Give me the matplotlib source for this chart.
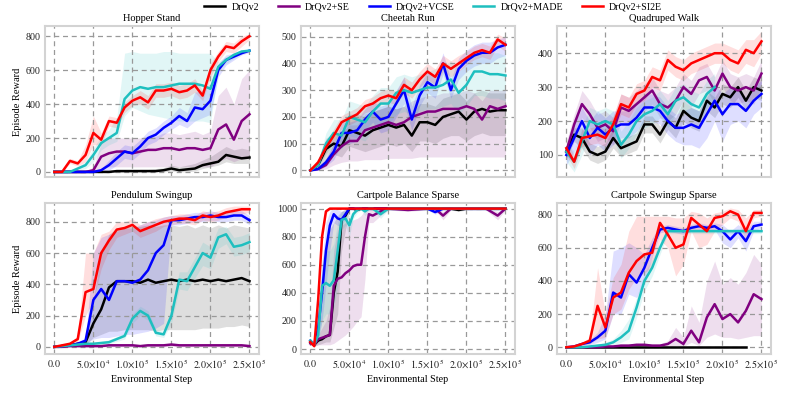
import numpy as np
import matplotlib
matplotlib.use("Agg")
import matplotlib.pyplot as plt
from matplotlib.ticker import FuncFormatter

plt.rcParams['font.family'] = ['Liberation Serif', 'DejaVu Serif']
plt.rcParams['mathtext.fontset'] = 'stix'

methods = ["DrQv2", "DrQv2+SE", "DrQv2+VCSE", "DrQv2+MADE", "DrQv2+SI2E"]
colors = ["black", "#800080", "#0000ff", "#1ebfbf", "#ff0000"]

steps = [k * 10000 for k in range(26)]

# ---- Hopper Stand
hop_drq = [0, 0, 0, 0, 0, 0, 0, 0, 5, 5, 5, 5, 5, 5, 10, 20, 10, 15, 20, 40, 50, 60, 100, 90, 80, 85]
hop_drq_lo = [0, 0, 0, 0, 0, 0, 0, 0, 0, 0, 0, 0, 0, 0, 0, 5, 0, 0, 5, 20, 30, 40, 60, 50, 50, 50]
hop_drq_hi = [0, 0, 0, 0, 0, 0, 0, 0, 10, 10, 10, 15, 15, 20, 25, 40, 30, 40, 50, 70, 90, 120, 150, 130, 140, 130]
hop_se = [0, 0, 0, 0, 0, 10, 90, 110, 120, 120, 110, 120, 130, 130, 140, 140, 130, 140, 140, 130, 140, 250, 280, 190, 300, 340]
hop_se_lo = [0, 0, 0, 0, 0, 0, 20, 30, 30, 30, 30, 30, 30, 30, 30, 30, 30, 30, 30, 30, 30, 60, 80, 60, 80, 90]
hop_se_hi = [0, 0, 0, 0, 0, 30, 170, 200, 200, 200, 200, 200, 210, 210, 230, 230, 220, 230, 240, 220, 240, 450, 500, 400, 550, 600]
hop_vcse = [0, 0, 0, 0, 0, 0, 10, 40, 80, 120, 110, 150, 200, 220, 260, 290, 330, 300, 380, 370, 420, 600, 660, 680, 700, 715]
hop_vcse_lo = [0, 0, 0, 0, 0, 0, 0, 10, 40, 80, 70, 110, 160, 180, 220, 250, 280, 260, 300, 320, 340, 560, 630, 660, 690, 705]
hop_vcse_hi = [0, 0, 0, 0, 0, 0, 20, 70, 120, 160, 150, 190, 240, 260, 300, 330, 380, 350, 470, 480, 520, 640, 690, 700, 710, 725]
hop_made = [0, 0, 0, 20, 40, 100, 170, 200, 230, 430, 480, 500, 490, 500, 500, 510, 520, 520, 520, 510, 490, 620, 660, 690, 710, 715]
hop_made_lo = [0, 0, 0, 10, 20, 60, 130, 160, 180, 330, 380, 360, 340, 330, 320, 310, 300, 300, 300, 300, 290, 590, 640, 670, 700, 705]
hop_made_hi = [0, 0, 0, 30, 60, 140, 210, 250, 320, 700, 710, 700, 700, 700, 710, 710, 700, 700, 700, 700, 700, 650, 680, 700, 720, 725]
hop_si2e = [0, 0, 65, 50, 100, 230, 190, 300, 290, 380, 420, 440, 410, 480, 480, 490, 470, 480, 510, 450, 600, 680, 740, 730, 770, 800]
hop_si2e_lo = [0, 0, 50, 35, 60, 160, 160, 270, 260, 350, 390, 400, 370, 440, 440, 450, 430, 440, 470, 420, 560, 650, 710, 700, 740, 780]
hop_si2e_hi = [0, 0, 80, 65, 160, 330, 230, 330, 320, 410, 450, 480, 450, 520, 520, 530, 510, 520, 550, 480, 640, 710, 770, 760, 800, 815]

# ---- Cheetah Run
che_drq = [0, 20, 80, 100, 90, 150, 140, 130, 150, 160, 170, 160, 170, 130, 180, 180, 170, 200, 210, 220, 190, 220, 230, 220, 225, 225]
che_drq_lo = [0, 5, 40, 60, 50, 90, 80, 70, 80, 90, 100, 90, 100, 70, 110, 110, 100, 120, 130, 130, 110, 130, 140, 130, 130, 130]
che_drq_hi = [0, 35, 120, 140, 140, 210, 210, 200, 220, 230, 240, 230, 240, 210, 250, 250, 240, 270, 280, 290, 260, 290, 300, 290, 290, 290]
che_se = [0, 5, 20, 60, 90, 110, 110, 150, 160, 170, 180, 170, 180, 200, 210, 220, 220, 230, 230, 230, 240, 230, 190, 240, 230, 240]
che_se_lo = [0, 0, 5, 20, 30, 35, 35, 40, 40, 40, 45, 45, 45, 45, 50, 50, 50, 50, 50, 50, 50, 50, 50, 50, 50, 50]
che_se_hi = [0, 10, 40, 100, 140, 170, 170, 210, 220, 230, 240, 230, 240, 260, 270, 280, 280, 290, 290, 290, 300, 290, 260, 300, 300, 300]
che_vcse = [0, 5, 30, 70, 140, 140, 150, 190, 220, 190, 200, 250, 300, 190, 280, 330, 310, 400, 300, 380, 410, 430, 440, 440, 460, 470]
che_vcse_lo = [0, 0, 15, 40, 100, 100, 110, 150, 180, 140, 150, 200, 250, 150, 240, 290, 270, 360, 270, 340, 370, 390, 400, 400, 420, 430]
che_vcse_hi = [0, 10, 45, 100, 180, 180, 190, 230, 260, 240, 250, 300, 350, 240, 320, 370, 350, 440, 340, 420, 450, 470, 480, 480, 490, 500]
che_made = [0, 20, 100, 140, 130, 200, 190, 180, 220, 250, 250, 290, 300, 290, 300, 310, 310, 320, 340, 290, 320, 370, 370, 360, 360, 355]
che_made_lo = [0, 5, 60, 90, 80, 130, 120, 110, 150, 170, 170, 210, 220, 210, 220, 230, 230, 240, 250, 210, 240, 280, 280, 270, 270, 260]
che_made_hi = [0, 35, 140, 190, 190, 260, 250, 240, 280, 310, 310, 350, 360, 350, 360, 370, 380, 390, 410, 370, 400, 440, 450, 440, 440, 430]
che_si2e = [0, 30, 85, 130, 180, 195, 210, 240, 250, 270, 280, 270, 320, 300, 340, 370, 350, 400, 380, 400, 420, 440, 450, 440, 490, 470]
che_si2e_lo = [0, 15, 65, 105, 155, 170, 185, 215, 225, 245, 255, 245, 290, 270, 310, 340, 320, 370, 350, 370, 395, 415, 425, 415, 465, 445]
che_si2e_hi = [0, 45, 105, 155, 205, 220, 235, 265, 275, 295, 305, 295, 350, 330, 370, 400, 380, 430, 410, 430, 445, 465, 475, 465, 510, 495]

# ---- Quadruped Walk
qua_drq = [110, 160, 150, 110, 100, 110, 150, 120, 130, 140, 190, 190, 160, 200, 180, 230, 210, 200, 260, 240, 280, 270, 300, 260, 300, 290]
qua_drq_lo = [90, 140, 120, 85, 75, 85, 120, 95, 105, 115, 165, 165, 135, 175, 150, 200, 180, 170, 230, 210, 250, 240, 270, 230, 270, 260]
qua_drq_hi = [130, 180, 180, 135, 125, 135, 180, 145, 155, 165, 215, 215, 185, 225, 210, 260, 240, 230, 290, 270, 310, 300, 330, 290, 330, 320]
qua_se = [110, 190, 250, 220, 180, 190, 170, 240, 230, 250, 270, 290, 250, 240, 260, 300, 280, 320, 330, 290, 340, 300, 290, 300, 290, 340]
qua_se_lo = [80, 160, 210, 180, 140, 150, 130, 200, 190, 210, 230, 250, 210, 200, 220, 260, 240, 280, 290, 250, 300, 260, 250, 260, 250, 300]
qua_se_hi = [140, 220, 290, 260, 220, 230, 210, 280, 270, 290, 310, 330, 290, 280, 300, 340, 320, 360, 370, 330, 380, 340, 330, 340, 330, 380]
qua_vcse = [100, 150, 200, 150, 180, 160, 180, 190, 190, 210, 240, 240, 230, 200, 180, 180, 190, 180, 220, 260, 220, 250, 250, 230, 260, 280]
qua_vcse_lo = [70, 110, 160, 100, 130, 110, 130, 150, 150, 170, 200, 200, 190, 160, 140, 130, 130, 120, 150, 200, 140, 190, 200, 180, 220, 240]
qua_vcse_hi = [130, 190, 240, 200, 230, 210, 230, 230, 230, 250, 280, 280, 270, 240, 220, 230, 240, 230, 270, 310, 280, 300, 290, 270, 300, 320]
qua_made = [110, 80, 140, 200, 190, 200, 190, 130, 160, 200, 220, 230, 250, 220, 260, 270, 250, 240, 280, 300]
qua_made_lo = [80, 50, 100, 160, 150, 160, 150, 90, 120, 160, 180, 190, 210, 180, 220, 230, 210, 200, 240, 260]
qua_made_hi = [140, 110, 180, 240, 230, 240, 230, 170, 200, 240, 260, 270, 290, 260, 300, 310, 290, 280, 320, 340]
qua_si2e = [120, 80, 150, 155, 160, 150, 190, 250, 240, 280, 290, 330, 320, 380, 360, 350, 370, 380, 390, 400, 400, 380, 370, 410, 400, 435]
qua_si2e_lo = [100, 60, 125, 130, 135, 125, 165, 220, 210, 250, 260, 300, 290, 350, 330, 320, 340, 350, 360, 370, 370, 350, 340, 370, 360, 400]
qua_si2e_hi = [140, 100, 175, 180, 185, 175, 215, 280, 270, 310, 320, 360, 350, 410, 390, 380, 400, 410, 420, 430, 430, 420, 410, 440, 440, 465]

# ---- Pendulum Swingup
pen_drq = [0, 5, 10, 20, 30, 150, 240, 380, 420, 420, 420, 410, 430, 410, 420, 430, 420, 430, 420, 430, 420, 430, 420, 430, 440, 420]
pen_drq_lo = [0, 0, 5, 10, 15, 60, 80, 100, 100, 110, 110, 110, 110, 100, 110, 110, 110, 110, 110, 120, 120, 120, 130, 130, 140, 130]
pen_drq_hi = [0, 10, 15, 30, 45, 300, 600, 720, 760, 770, 770, 770, 780, 770, 780, 780, 770, 780, 760, 780, 760, 780, 760, 780, 770, 760]
pen_se = [0, 0, 5, 5, 5, 5, 5, 10, 10, 10, 10, 5, 10, 10, 10, 15, 10, 10, 10, 10, 10, 10, 10, 10, 10, 5]
pen_se_lo = [0, 0, 0, 0, 0, 0, 0, 0, 0, 0, 0, 0, 0, 0, 0, 5, 0, 0, 0, 0, 0, 0, 0, 0, 0, 0]
pen_se_hi = [0, 5, 10, 10, 10, 10, 10, 20, 20, 20, 20, 15, 20, 20, 20, 25, 20, 20, 20, 20, 20, 20, 20, 20, 20, 15]
pen_vcse = [0, 5, 10, 20, 40, 300, 370, 300, 420, 420, 410, 430, 490, 600, 650, 810, 810, 820, 830, 830, 840, 830, 830, 840, 840, 810]
pen_vcse_lo = [0, 0, 5, 10, 20, 50, 60, 60, 70, 80, 80, 90, 100, 120, 150, 780, 780, 790, 800, 800, 810, 800, 800, 810, 810, 780]
pen_vcse_hi = [0, 10, 15, 30, 60, 600, 700, 720, 740, 760, 760, 780, 800, 810, 830, 840, 840, 850, 860, 860, 870, 860, 860, 870, 870, 840]
pen_made = [0, 5, 10, 15, 20, 20, 25, 30, 50, 70, 180, 230, 200, 90, 80, 200, 430, 420, 510, 600, 570, 700, 720, 640, 650, 670]
pen_made_lo = [0, 0, 5, 10, 10, 10, 15, 20, 35, 50, 150, 200, 170, 70, 60, 150, 370, 360, 440, 520, 500, 630, 660, 580, 590, 610]
pen_made_hi = [0, 10, 15, 20, 30, 30, 35, 45, 65, 90, 210, 260, 230, 110, 100, 250, 480, 480, 570, 670, 640, 760, 770, 700, 710, 730]
pen_si2e = [0, 10, 20, 50, 350, 370, 600, 680, 750, 760, 780, 740, 760, 780, 800, 810, 820, 820, 810, 840, 830, 840, 860, 870, 880, 880]
pen_si2e_lo = [0, 5, 10, 30, 200, 300, 500, 620, 700, 720, 740, 700, 720, 740, 770, 780, 790, 790, 780, 810, 800, 810, 830, 840, 850, 860]
pen_si2e_hi = [0, 15, 30, 70, 600, 600, 720, 740, 800, 800, 820, 780, 800, 820, 830, 840, 850, 850, 840, 870, 860, 870, 890, 900, 900, 900]

# ---- Cartpole Balance Sparse
cbs_x = [0, 5000, 10000, 15000, 20000, 25000, 30000, 35000, 40000, 45000, 50000, 55000, 60000, 65000,
         70000, 75000, 80000, 90000, 100000, 125000, 150000, 160000, 170000, 180000, 190000, 200000,
         225000, 240000, 250000]
cbs_drq = [50, 30, 60, 70, 90, 100, 400, 550, 920, 950, 1000, 1000, 990, 1000, 1000, 1000, 1000, 1000, 1000, 1000, 1000, 1000, 1000, 1000, 990, 1000, 1000, 1000, 1000]
cbs_drq_lo = [40, 20, 30, 40, 50, 50, 150, 250, 700, 850, 990, 990, 980, 990, 990, 990, 990, 990, 990, 990, 990, 990, 990, 990, 980, 990, 990, 990, 990]
cbs_drq_hi = [60, 40, 200, 500, 700, 850, 900, 950, 980, 1000, 1000, 1000, 1000, 1000, 1000, 1000, 1000, 1000, 1000, 1000, 1000, 1000, 1000, 1000, 1000, 1000, 1000, 1000, 1000]
cbs_se = [40, 30, 70, 80, 90, 100, 450, 500, 510, 540, 560, 590, 600, 600, 800, 960, 950, 980, 1000, 990, 1000, 1000, 950, 1000, 1000, 1000, 1000, 950, 1000]
cbs_se_lo = [30, 20, 30, 30, 30, 30, 40, 60, 80, 100, 130, 160, 200, 230, 500, 900, 900, 950, 990, 980, 990, 990, 920, 990, 990, 990, 990, 920, 990]
cbs_se_hi = [50, 40, 100, 150, 200, 300, 700, 850, 880, 900, 900, 920, 930, 950, 990, 1000, 1000, 1000, 1000, 1000, 1000, 1000, 980, 1000, 1000, 1000, 1000, 980, 1000]
cbs_vcse = [60, 30, 150, 400, 700, 880, 960, 930, 920, 960, 1000, 1000, 1000, 1000, 1000, 1000, 1000, 1000, 1000, 1000, 1000, 975, 1000, 1000, 1000, 1000, 1000, 1000, 1000]
cbs_vcse_lo = [50, 20, 80, 200, 450, 700, 900, 880, 880, 930, 990, 990, 990, 990, 990, 990, 990, 990, 990, 990, 990, 960, 990, 990, 990, 990, 990, 990, 990]
cbs_vcse_hi = [70, 40, 250, 600, 900, 980, 1000, 990, 980, 990, 1000, 1000, 1000, 1000, 1000, 1000, 1000, 1000, 1000, 1000, 1000, 990, 1000, 1000, 1000, 1000, 1000, 1000, 1000]
cbs_made = [60, 30, 100, 450, 470, 450, 490, 700, 920, 930, 880, 960, 990, 1000, 980, 1000, 1000, 960, 1000, 1000, 1000, 1000, 1000, 1000, 1000, 1000, 1000, 1000, 1000]
cbs_made_lo = [50, 20, 50, 200, 250, 250, 300, 450, 850, 880, 800, 930, 970, 990, 950, 990, 990, 930, 990, 990, 990, 990, 990, 990, 990, 990, 990, 990, 990]
cbs_made_hi = [70, 40, 200, 650, 700, 700, 750, 900, 980, 980, 950, 990, 1000, 1000, 1000, 1000, 1000, 990, 1000, 1000, 1000, 1000, 1000, 1000, 1000, 1000, 1000, 1000, 1000]
cbs_si2e = [50, 20, 350, 800, 980, 1000, 1000, 1000, 1000, 1000, 1000, 1000, 1000, 1000, 1000, 1000, 1000, 1000, 1000, 1000, 1000, 1000, 1000, 1000, 1000, 1000, 1000, 1000, 1000]
cbs_si2e_lo = [45, 15, 300, 740, 960, 995, 995, 995, 995, 995, 995, 995, 995, 995, 995, 995, 995, 995, 995, 995, 995, 995, 995, 995, 995, 995, 995, 995, 995]
cbs_si2e_hi = [55, 25, 400, 860, 1000, 1000, 1000, 1000, 1000, 1000, 1000, 1000, 1000, 1000, 1000, 1000, 1000, 1000, 1000, 1000, 1000, 1000, 1000, 1000, 1000, 1000, 1000, 1000, 1000]

# ---- Cartpole Swingup Sparse
css_drq = [0, 0, 0, 0, 0, 0, 0, 0, 0, 0, 0, 0, 0, 0, 0, 0, 0, 0, 0, 0, 0, 0, 0, 0]
css_drq_lo = [0, 0, 0, 0, 0, 0, 0, 0, 0, 0, 0, 0, 0, 0, 0, 0, 0, 0, 0, 0, 0, 0, 0, 0]
css_drq_hi = [0, 0, 0, 0, 0, 0, 0, 0, 0, 0, 0, 0, 0, 0, 0, 0, 0, 0, 0, 0, 0, 0, 0, 0]
css_se = [0, 0, 0, 0, 0, 5, 5, 10, 10, 15, 15, 10, 10, 20, 50, 20, 100, 30, 180, 260, 170, 200, 150, 220, 320, 290]
css_se_lo = [0, 0, 0, 0, 0, 0, 0, 0, 0, 0, 0, 0, 0, 5, 10, 5, 30, 10, 60, 80, 60, 60, 50, 60, 70, 70]
css_se_hi = [0, 0, 0, 0, 0, 10, 10, 20, 20, 25, 25, 20, 20, 40, 120, 60, 250, 150, 400, 520, 380, 420, 380, 450, 560, 500]
css_vcse = [0, 5, 20, 30, 60, 100, 330, 300, 440, 390, 480, 600, 710, 720, 710, 700, 720, 730, 720, 730, 700, 650, 700, 640, 730, 740]
css_vcse_lo = [0, 0, 10, 15, 30, 50, 200, 200, 320, 300, 400, 540, 690, 700, 690, 680, 700, 710, 700, 710, 630, 600, 660, 580, 700, 720]
css_vcse_hi = [0, 10, 30, 45, 90, 200, 580, 600, 630, 600, 560, 660, 730, 740, 730, 720, 740, 750, 740, 750, 740, 700, 740, 700, 760, 760]
css_made = [0, 0, 0, 5, 10, 15, 30, 60, 100, 240, 400, 480, 600, 700, 700, 700, 700, 700, 700, 700, 700, 700, 700, 700, 700, 700]
css_made_lo = [0, 0, 0, 0, 5, 5, 15, 30, 50, 180, 340, 430, 560, 685, 685, 685, 685, 685, 685, 685, 685, 685, 685, 685, 685, 685]
css_made_hi = [0, 0, 0, 10, 20, 30, 50, 100, 170, 300, 450, 530, 640, 715, 715, 715, 715, 715, 715, 715, 715, 715, 715, 715, 715, 715]
css_si2e = [0, 5, 20, 40, 250, 120, 300, 330, 450, 520, 560, 570, 750, 680, 600, 620, 780, 740, 700, 780, 790, 820, 800, 700, 810, 810]
css_si2e_lo = [0, 0, 10, 20, 50, 60, 200, 230, 350, 420, 450, 480, 650, 600, 430, 500, 700, 600, 620, 700, 740, 780, 760, 640, 780, 790]
css_si2e_hi = [0, 10, 30, 60, 480, 200, 420, 500, 700, 790, 790, 790, 790, 790, 780, 780, 820, 810, 780, 810, 820, 840, 830, 780, 830, 830]

panels = [
    ("Hopper Stand", [0, 200, 400, 600, 800], (-30, 860),
     [(steps, hop_drq, hop_drq_lo, hop_drq_hi), (steps, hop_se, hop_se_lo, hop_se_hi),
      (steps, hop_vcse, hop_vcse_lo, hop_vcse_hi), (steps, hop_made, hop_made_lo, hop_made_hi),
      (steps, hop_si2e, hop_si2e_lo, hop_si2e_hi)]),
    ("Cheetah Run", [0, 100, 200, 300, 400, 500], (-25, 540),
     [(steps, che_drq, che_drq_lo, che_drq_hi), (steps, che_se, che_se_lo, che_se_hi),
      (steps, che_vcse, che_vcse_lo, che_vcse_hi), (steps, che_made, che_made_lo, che_made_hi),
      (steps, che_si2e, che_si2e_lo, che_si2e_hi)]),
    ("Quadruped Walk", [100, 200, 300, 400], (35, 480),
     [(steps, qua_drq, qua_drq_lo, qua_drq_hi), (steps, qua_se, qua_se_lo, qua_se_hi),
      (steps, qua_vcse, qua_vcse_lo, qua_vcse_hi), (steps[:len(qua_made)], qua_made, qua_made_lo, qua_made_hi),
      (steps, qua_si2e, qua_si2e_lo, qua_si2e_hi)]),
    ("Pendulum Swingup", [0, 200, 400, 600, 800], (-45, 920),
     [(steps, pen_drq, pen_drq_lo, pen_drq_hi), (steps, pen_se, pen_se_lo, pen_se_hi),
      (steps, pen_vcse, pen_vcse_lo, pen_vcse_hi), (steps, pen_made, pen_made_lo, pen_made_hi),
      (steps, pen_si2e, pen_si2e_lo, pen_si2e_hi)]),
    ("Cartpole Balance Sparse", [0, 200, 400, 600, 800, 1000], (-35, 1040),
     [(cbs_x, cbs_drq, cbs_drq_lo, cbs_drq_hi), (cbs_x, cbs_se, cbs_se_lo, cbs_se_hi),
      (cbs_x, cbs_vcse, cbs_vcse_lo, cbs_vcse_hi), (cbs_x, cbs_made, cbs_made_lo, cbs_made_hi),
      (cbs_x, cbs_si2e, cbs_si2e_lo, cbs_si2e_hi)]),
    ("Cartpole Swingup Sparse", [0, 200, 400, 600, 800], (-40, 870),
     [(steps[:len(css_drq)], css_drq, css_drq_lo, css_drq_hi), (steps, css_se, css_se_lo, css_se_hi),
      (steps, css_vcse, css_vcse_lo, css_vcse_hi), (steps, css_made, css_made_lo, css_made_hi),
      (steps, css_si2e, css_si2e_lo, css_si2e_hi)]),
]

xticks = [0, 50000, 100000, 150000, 200000, 250000]


def step_fmt(v, pos):
    if v == 0:
        return r"$0.0$"
    e = int(np.floor(np.log10(v)))
    return r"$%.1f{\times}10^{%d}$" % (v / 10 ** e, e)


fig, axes = plt.subplots(2, 3, figsize=(7.89, 3.95), dpi=100)
fig.subplots_adjust(left=0.057, right=0.977, top=0.934, bottom=0.104, wspace=0.197, hspace=0.172)

for i, (ax, (title, yt, ylim, series)) in enumerate(zip(axes.flat, panels)):
    for (x, m, lo, hi), c, name in zip(series, colors, methods):
        ax.fill_between(x, lo, hi, color=c, alpha=0.13, linewidth=0)
        ax.plot(x, m, color=c, lw=1.8, label=name)
    ax.set_title(title, fontsize=7.5, pad=3.5)
    ax.set_xlim(-12000, 262000)
    ax.set_ylim(*ylim)
    ax.set_yticks(yt)
    ax.set_xticks(xticks)
    ax.xaxis.set_major_formatter(FuncFormatter(step_fmt))
    ax.grid(True, ls=(0, (4, 3)), color="#999999", lw=0.9)
    ax.tick_params(length=0, labelsize=7.2, colors="#222222", pad=3)
    for s in ax.spines.values():
        s.set_color("#d3d3d3")
        s.set_linewidth(1.5)
    if i < 3:
        ax.set_xticklabels([])
    else:
        ax.set_xlabel("Environmental Step", fontsize=7.3, labelpad=3)
    if i % 3 == 0:
        ax.set_ylabel("Episode Reward", fontsize=7.5, labelpad=3)

handles, labels = axes[0, 0].get_legend_handles_labels()
fig.legend(handles, labels, loc="center", bbox_to_anchor=(0.549, 0.982), ncol=5,
           frameon=False, fontsize=7.2, handlelength=2.1, columnspacing=1.9, handletextpad=0.6,
           borderpad=0.1)

fig.savefig("out.png", dpi=100)
